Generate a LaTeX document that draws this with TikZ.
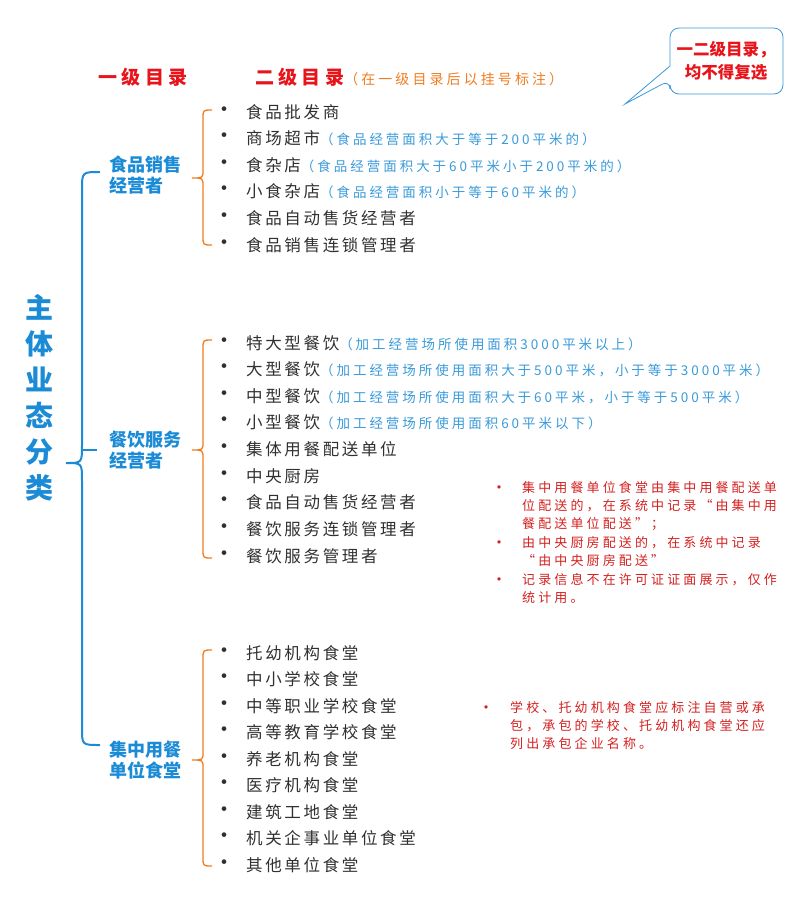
\documentclass[tikz,border=0pt]{standalone}
\usepackage{fontspec}
\setmainfont{Noto Sans CJK SC}
\newfontfamily\itemfont[LetterSpace=16]{Noto Sans CJK SC}
\newfontfamily\notefont[LetterSpace=22]{Noto Sans CJK SC}
\newfontfamily\redfont[LetterSpace=24]{Noto Sans CJK SC}
\usetikzlibrary{positioning, calc}
\definecolor{hblue}{HTML}{1C8BD6}
\definecolor{nblue}{HTML}{3A9AD9}
\definecolor{brc}{HTML}{F07C1E}
\definecolor{itc}{HTML}{303030}
\definecolor{redc}{HTML}{E8141B}
\definecolor{notec}{HTML}{D42020}
\newcommand{\ann}[1]{\textcolor{nblue}{\notefont\fontsize{13.5}{15}\selectfont #1}}
\begin{document}
\begin{tikzpicture}[x=1pt,y=-1pt,
  item node/.style={anchor=west,inner sep=0pt,text=itc,font=\itemfont\fontsize{16.5}{18}\selectfont},
  dot node/.style={anchor=center,inner sep=0pt,text=itc,font=\fontsize{22}{22}\selectfont},
  head node/.style={align=left,text=hblue,font=\bfseries\fontsize{18}{21}\selectfont,inner sep=0pt},
  red note/.style={anchor=north west,align=left,text=notec,inner sep=0pt,font=\redfont\fontsize{13}{18.2}\selectfont},
  red dot/.style={text=notec,inner sep=0pt,font=\fontsize{16}{16}\selectfont},
  brace/.style={draw=brc,line width=1.3pt}]
  \useasboundingbox (0,0) rectangle (803,898);
  % headers
  \node[text=redc,font=\bfseries\fontsize{19}{21}\selectfont] (lv1) at (143,77) {一 级 目 录};
  \node[anchor=west,inner sep=0pt] (lv2) at (255,77) {\textcolor{redc}{\bfseries\fontsize{19}{21}\selectfont 二 级 目 录}\textcolor{brc}{\notefont\fontsize{14}{15}\selectfont （在一级目录后以挂号标注）}};
  % callout
  \draw[draw=nblue,fill=white,line width=0.8pt,rounded corners=9pt]
    (670,28) -- (783,28) -- (783,94) -- (670,94) -- (670,80) [sharp corners] -- (625,104) -- (670,66) [rounded corners=9pt] -- cycle;
  \node[align=center,text=redc,font=\bfseries\fontsize{16.5}{23}\selectfont] (call) at (726,61) {一二级目录，\\均不得复选};
  % title
  \node[align=center,text=hblue,font=\bfseries\fontsize{28}{36}\selectfont] (title) at (40,398) {主\\体\\业\\态\\分\\类};
  % big brace
  \draw[draw=hblue,line width=2pt] (100,172) .. controls (82,172) .. (82,190) -- (82,445)
    .. controls (82,463) .. (66,463) .. controls (82,463) .. (82,481) -- (82,728)
    .. controls (82,745) .. (100,745);
  \draw[draw=hblue,line width=2pt] (82,450) -- (97,450);
  % level one headings
  \node[head node] (c1) at (145,175) {食品销售\\经营者};
  \node[head node] (c2) at (145,450) {餐饮服务\\经营者};
  \node[head node] (c3) at (145,760) {集中用餐\\单位食堂};
  % small braces
  \foreach \t/\m/\b in {110/178/245, 340/450/558, 650/760/866}{
    \draw[brace] (212,\t) .. controls (203,\t) .. (203,\t+9) -- (203,\m-8)
      .. controls (203,\m) .. (192,\m) .. controls (203,\m) .. (203,\m+8) -- (203,\b-9)
      .. controls (203,\b) .. (212,\b);
  }
  % group one
  \foreach \y/\txt in {112/食品批发商, 138/商场超市\ann{（食品经营面积大于等于200平米的）},
    165/食杂店\ann{（食品经营面积大于60平米小于200平米的）},
    191/小食杂店\ann{（食品经营面积小于等于60平米的）},
    218/食品自动售货经营者, 245/食品销售连锁管理者}{
    \node[dot node] at (224,\y) {•};
    \node[item node] at (246,\y) {\txt};
  }
  % group two
  \foreach \y/\txt in {343/特大型餐饮\ann{（加工经营场所使用面积3000平米以上）},
    369/大型餐饮\ann{（加工经营场所使用面积大于500平米，小于等于3000平米）},
    396/中型餐饮\ann{（加工经营场所使用面积大于60平米，小于等于500平米）},
    422/小型餐饮\ann{（加工经营场所使用面积60平米以下）},
    449/集体用餐配送单位, 476/中央厨房, 502/食品自动售货经营者, 529/餐饮服务连锁管理者, 556/餐饮服务管理者}{
    \node[dot node] at (224,\y) {•};
    \node[item node] at (246,\y) {\txt};
  }
  % group three
  \foreach \y/\txt in {653/托幼机构食堂, 679/中小学校食堂, 706/中等职业学校食堂, 732/高等教育学校食堂,
    759/养老机构食堂, 785/医疗机构食堂, 812/建筑工地食堂, 838/机关企事业单位食堂, 865/其他单位食堂}{
    \node[dot node] at (224,\y) {•};
    \node[item node] at (246,\y) {\txt};
  }
  % red notes
  \foreach \y in {490, 545, 582}{ \node[red dot] at (499,\y) {•}; }
  \node[red note] (n1) at (522,481) {集中用餐单位食堂由集中用餐配送单\\位配送的，在系统中记录“由集中用\\餐配送单位配送”；};
  \node[red note] (n2) at (522,536) {由中央厨房配送的，在系统中记录\\“由中央厨房配送”};
  \node[red note] (n3) at (522,573) {记录信息不在许可证证面展示，仅作\\统计用。};
  \node[red dot] at (486,710) {•};
  \node[red note] (n4) at (510,701) {学校、托幼机构食堂应标注自营或承\\包，承包的学校、托幼机构食堂还应\\列出承包企业名称。};
\end{tikzpicture}
\end{document}
